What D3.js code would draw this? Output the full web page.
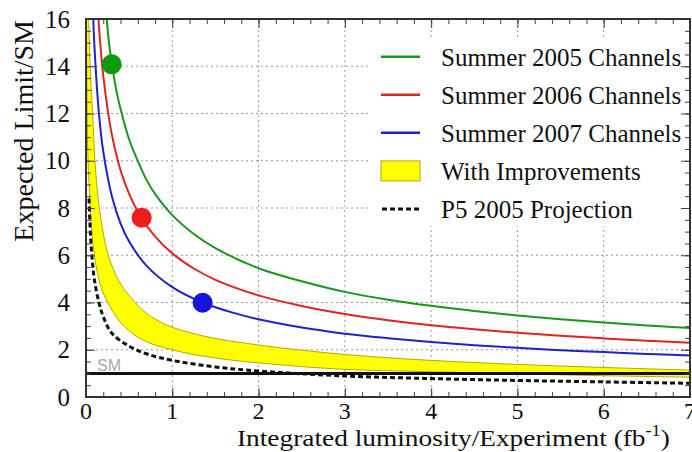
<!DOCTYPE html>
<html>
<head>
<meta charset="utf-8">
<script src="https://cdn.jsdelivr.net/npm/d3@7"></script>
<style>
  body { margin: 0; background: #fff; }
  svg { display: block; }
  text { font-family: "Liberation Serif", "Times New Roman", serif; fill: #111; }
</style>
</head>
<body>
<div id="chart"></div>
<script>
// values: [luminosity (fb^-1), expected limit / SM]
const summer2005 = [[0.23,16.6],[0.26,15.2],[0.30,14.1],[0.35,13.0],[0.4,12.2],[0.5,10.9],[0.6,10.0],[0.7,9.2],[0.8,8.6],[1.0,7.7],[1.25,6.9],[1.5,6.3],[2,5.45],[2.5,4.9],[3,4.45],[3.5,4.12],[4,3.86],[4.5,3.64],[5,3.45],[5.5,3.29],[6,3.15],[6.5,3.03],[7,2.92]];
const summer2006 = [[0.135,16.6],[0.16,15.2],[0.2,13.6],[0.25,12.2],[0.3,11.1],[0.4,9.6],[0.5,8.6],[0.64,7.6],[0.8,6.8],[1,6.08],[1.25,5.44],[1.5,4.96],[2,4.3],[2.5,3.85],[3,3.51],[3.5,3.25],[4,3.04],[4.5,2.87],[5,2.72],[5.5,2.59],[6,2.48],[6.5,2.38],[7,2.30]];
const summer2007 = [[0.078,16.6],[0.1,14.7],[0.15,12.0],[0.2,10.4],[0.3,8.5],[0.4,7.35],[0.5,6.58],[0.7,5.56],[1,4.65],[1.35,4.0],[1.7,3.57],[2,3.29],[2.5,2.94],[3,2.68],[3.5,2.49],[4,2.33],[4.5,2.19],[5,2.08],[5.5,1.98],[6,1.9],[6.5,1.82],[7,1.76]];
// yellow "with improvements" band, upper and lower edge
const bandUpper = [[0.028,16.5],[0.05,13.8],[0.078,11.9],[0.1,10.2],[0.13,8.8],[0.17,7.6],[0.25,6.1],[0.375,4.95],[0.5,4.3],[0.65,3.7],[0.8,3.3],[1.0,2.95],[1.25,2.68],[1.5,2.48],[2,2.2],[2.5,1.98],[3,1.8],[3.5,1.66],[4,1.55],[5,1.38],[6,1.25],[7,1.14]];
const bandLower = [[0.005,16.5],[0.012,12.5],[0.022,10.2],[0.05,8.0],[0.08,6.5],[0.13,5.3],[0.2,4.4],[0.36,3.34],[0.5,2.8],[0.7,2.34],[1.09,1.92],[1.5,1.65],[2.13,1.40],[3,1.17],[4,1.07],[5,0.98],[6,0.9],[7,0.84]];
const p5Projection = [[0.035,8.4],[0.05,7.0],[0.07,5.9],[0.1,4.9],[0.15,4.0],[0.2,3.4],[0.3,2.7],[0.5,2.15],[0.7,1.83],[1,1.55],[1.5,1.27],[2,1.10],[3,0.89],[4,0.78],[5,0.70],[6,0.64],[7,0.58]];
const smLevel = 1;

// big dots on each curve
const dotX = [0.298, 0.645, 1.352];
const dotY = [14.08, 7.59, 3.99];
const dotColors = ["#109a10", "#ee1c1c", "#1414dd"];

const legendLabels = ["Summer 2005 Channels", "Summer 2006 Channels", "Summer 2007 Channels", "With Improvements", "P5 2005 Projection"];
const curveColors = ["#1a961a", "#e02424", "#2020cc"];

const xTicks = [0, 1, 2, 3, 4, 5, 6, 7];
const yTicks = [0, 2, 4, 6, 8, 10, 12, 14, 16];

const width = 692, height = 452;
const x = d3.scaleLinear().domain([0, 7]).range([86, 690]);
const y = d3.scaleLinear().domain([0, 16]).range([397, 19]);

const svg = d3.select("#chart").append("svg")
    .attr("width", width)
    .attr("height", height);

svg.append("clipPath").attr("id", "plotclip")
  .append("rect")
    .attr("x", x(0)).attr("y", y(16))
    .attr("width", x(7) - x(0)).attr("height", y(0) - y(16));

// grid
let grid = svg.append("g").attr("stroke", "#9a9a9a").attr("stroke-width", 1).attr("stroke-dasharray", "2,3");
grid.selectAll(".gx").data(xTicks.slice(1, -1)).enter().append("line")
    .attr("x1", d => x(d)).attr("x2", d => x(d))
    .attr("y1", y(0)).attr("y2", y(16));
grid.selectAll(".gy").data(yTicks.slice(1, -1)).enter().append("line")
    .attr("x1", x(0)).attr("x2", x(7))
    .attr("y1", d => y(d)).attr("y2", d => y(d));

const plot = svg.append("g").attr("clip-path", "url(#plotclip)");
const line = d3.line().x(d => x(d[0])).y(d => y(d[1])).curve(d3.curveCatmullRom.alpha(0.5));

// band
let bandPath = line(bandUpper) + "L" + line(bandLower.slice().reverse()).slice(1) + "Z";
plot.append("path")
    .attr("d", bandPath)
    .attr("fill", "#ffff00")
    .attr("stroke", "#b4a800")
    .attr("stroke-width", 1);

// SM = 1 line
plot.append("line")
    .attr("x1", x(0)).attr("x2", x(7))
    .attr("y1", y(smLevel)).attr("y2", y(smLevel))
    .attr("stroke", "#111").attr("stroke-width", 3);

plot.append("path")
    .attr("d", line(p5Projection))
    .attr("fill", "none")
    .attr("stroke", "#111")
    .attr("stroke-width", 3)
    .attr("stroke-dasharray", "5,3");

[summer2005, summer2006, summer2007].forEach((s, i) => {
    plot.append("path")
        .attr("d", line(s))
        .attr("fill", "none")
        .attr("stroke", curveColors[i])
        .attr("stroke-width", 2);
});

plot.selectAll(".dot").data(dotX).enter().append("circle")
    .attr("cx", d => x(d))
    .attr("cy", (d, i) => y(dotY[i]))
    .attr("r", 10)
    .attr("fill", (d, i) => dotColors[i]);

svg.append("text")
    .attr("x", 97).attr("y", 371)
    .style("font-family", "'Liberation Sans', Arial, sans-serif")
    .style("font-size", "16px")
    .style("fill", "#a8a8a8")
    .text("SM");

// legend
let legend = svg.append("g");
legend.append("rect")
    .attr("x", 371).attr("y", 37).attr("width", 318).attr("height", 189)
    .attr("fill", "#fff");
const rowY = d3.scaleLinear().domain([0, 4]).range([56.7, 209]);
legendLabels.forEach((lab, i) => {
    let yy = rowY(i);
    if (i < 3) {
        legend.append("line").attr("x1", 381).attr("x2", 420).attr("y1", yy).attr("y2", yy)
            .attr("stroke", curveColors[i]).attr("stroke-width", 2.5);
    } else if (i === 3) {
        legend.append("rect").attr("x", 381).attr("y", yy - 10).attr("width", 39).attr("height", 20)
            .attr("fill", "#ffff00").attr("stroke", "#b4a800").attr("stroke-width", 1);
    } else {
        legend.append("line").attr("x1", 382).attr("x2", 420).attr("y1", yy).attr("y2", yy)
            .attr("stroke", "#111").attr("stroke-width", 3).attr("stroke-dasharray", "5,3");
    }
    legend.append("text")
        .attr("x", 441).attr("y", yy + 9.3)
        .style("font-size", "25px")
        .text(lab);
});

// axes: minor and major ticks on all four sides
const xMinor = d3.range(0, 7.001, 0.2);
const yMinor = d3.range(0, 16.001, 0.5);
function ticks(axis, scale, vals, size, tr) {
    svg.append("g").attr("transform", tr)
        .call(axis(scale).tickValues(vals).tickSize(size).tickFormat(""))
        .call(g => g.select(".domain").remove())
        .call(g => g.selectAll("line").attr("stroke", "#444"));
}
ticks(d3.axisBottom, x, xMinor, -5, `translate(0,${y(0)})`);
ticks(d3.axisBottom, x, xTicks, -9, `translate(0,${y(0)})`);
ticks(d3.axisTop, x, xMinor, -5, `translate(0,${y(16)})`);
ticks(d3.axisTop, x, xTicks, -9, `translate(0,${y(16)})`);
ticks(d3.axisLeft, y, yMinor, -5, `translate(${x(0)},0)`);
ticks(d3.axisLeft, y, yTicks, -9, `translate(${x(0)},0)`);
ticks(d3.axisRight, y, yMinor, -5, `translate(${x(7)},0)`);
ticks(d3.axisRight, y, yTicks, -9, `translate(${x(7)},0)`);

// frame
svg.append("rect")
    .attr("x", x(0)).attr("y", y(16))
    .attr("width", x(7) - x(0)).attr("height", y(0) - y(16))
    .attr("fill", "none").attr("stroke", "#333").attr("stroke-width", 2);

// tick labels
svg.append("g").selectAll("text").data(xTicks).enter().append("text")
    .attr("x", d => x(d)).attr("y", 419)
    .attr("text-anchor", "middle")
    .style("font-size", "24px")
    .text(d => d);
svg.append("g").selectAll("text").data(yTicks).enter().append("text")
    .attr("x", 70).attr("y", d => y(d) + 8.5)
    .attr("text-anchor", "end")
    .style("font-size", "25px")
    .text(d => d);

// axis titles
svg.append("text")
    .attr("transform", "translate(33,20) rotate(-90)")
    .attr("text-anchor", "end")
    .style("font-size", "28px")
    .text("Expected Limit/SM");

let xt = svg.append("text")
    .attr("transform", "translate(237,446) scale(1.14,1)")
    .style("font-size", "24px");
xt.append("tspan").text("Integrated luminosity/Experiment (fb");
xt.append("tspan").attr("dy", -10).style("font-size", "16px").text("-1");
xt.append("tspan").attr("dy", 10).text(")");
</script>
</body>
</html>
